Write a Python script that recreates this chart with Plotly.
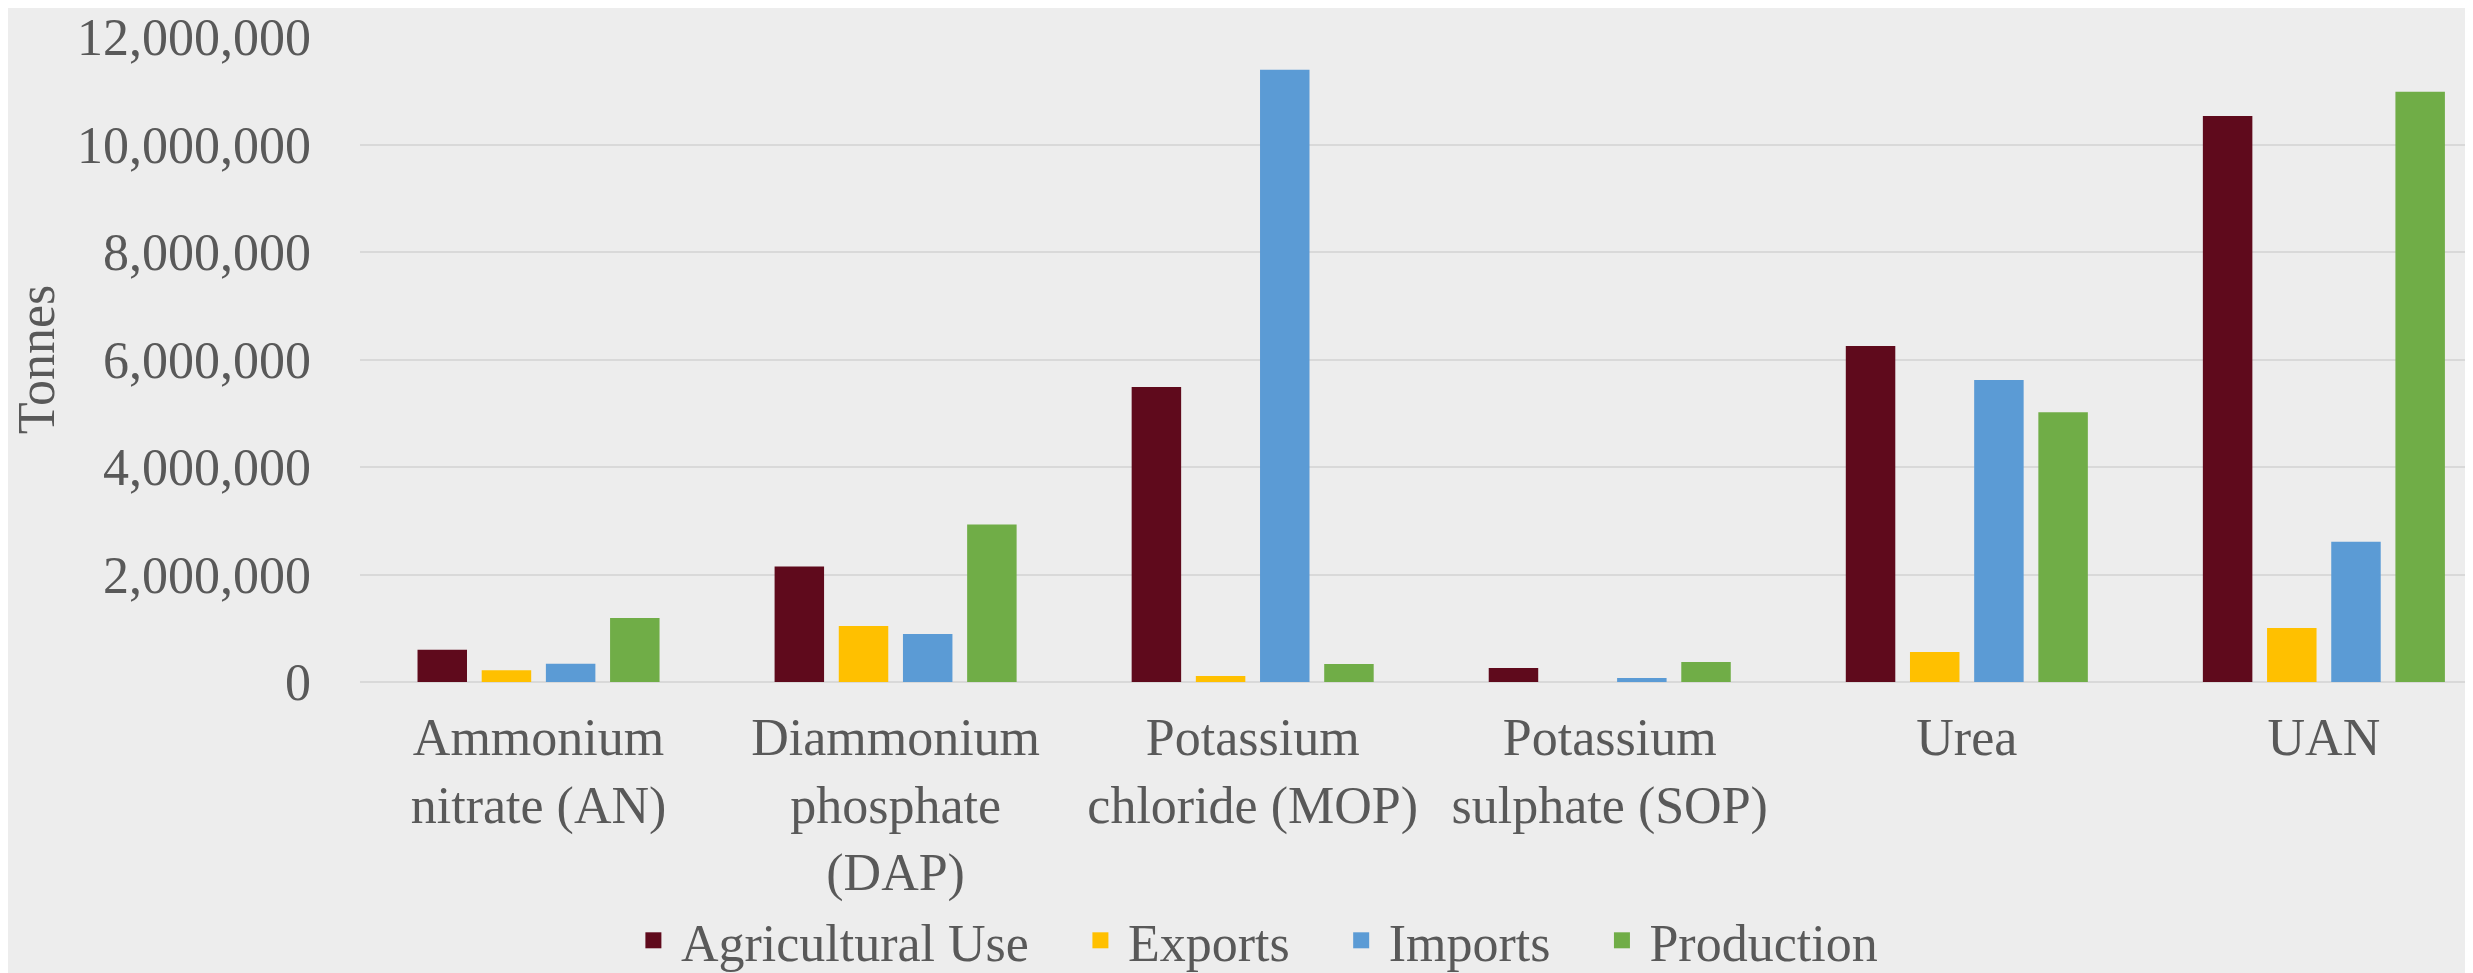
import plotly.graph_objects as go

categories = [
    "Ammonium<br>nitrate (AN)",
    "Diammonium<br>phosphate<br>(DAP)",
    "Potassium<br>chloride (MOP)",
    "Potassium<br>sulphate (SOP)",
    "Urea",
    "UAN",
]
agricultural_use = [600000, 2150000, 5490000, 260000, 6250000, 10530000]
exports = [220000, 1040000, 110000, 0, 556000, 1005000]
imports = [340000, 895000, 11390000, 75000, 5620000, 2610000]
production = [1190000, 2930000, 335000, 370000, 5020000, 10980000]

series_names = ["Agricultural Use", "Exports", "Imports", "Production"]
series_values = [agricultural_use, exports, imports, production]
colors = ["#5f0a1c", "#ffc000", "#5b9bd5", "#70ad47"]
y_ticks = [0, 2000000, 4000000, 6000000, 8000000, 10000000, 12000000]

FONT = "Liberation Serif, Times New Roman, serif"
TXT = "#595959"
NB = "\u00a0"

fig = go.Figure()
for name, vals, col in zip(series_names, series_values, colors):
    fig.add_trace(go.Bar(name=name, x=list(range(len(categories))), y=vals,
                         marker=dict(color=col, line=dict(width=0)),
                         showlegend=False, legendgroup=name))

# legend-only entries with larger square swatches
for i, (name, col) in enumerate(zip(series_names, colors)):
    label = name + (NB * 3 if i < len(series_names) - 1 else "")
    fig.add_trace(go.Scatter(name=label, x=[None], y=[None], mode="markers",
                             marker=dict(symbol="square", size=16, color=col),
                             legendgroup=name, showlegend=True))

fig.update_layout(
    width=2473, height=973,
    margin=dict(l=352, r=0, t=29, b=299),
    paper_bgcolor="#ededed", plot_bgcolor="rgba(0,0,0,0)",
    barmode="group", bargap=0.281, bargroupgap=0.229,
    font=dict(family=FONT, size=52, color=TXT),
    showlegend=True,
    legend=dict(orientation="h", xref="container", x=0.504, xanchor="center",
                yref="container", y=0.0, yanchor="bottom",
                font=dict(family=FONT, size=52, color=TXT),
                bgcolor="rgba(0,0,0,0)", itemwidth=45, tracegroupgap=0,
                itemsizing="trace"),
)
fig.update_xaxes(
    tickmode="array", tickvals=list(range(len(categories))), ticktext=categories,
    range=[-0.5, 5.44], showgrid=False, zeroline=False, showline=False,
    ticks="", ticklabelstandoff=20, automargin=False,
    tickfont=dict(family=FONT, size=52, color=TXT),
)
fig.update_yaxes(
    range=[0, 12000000], tickmode="array", tickvals=y_ticks,
    ticktext=[f"{v:,}" for v in y_ticks],
    showgrid=True, gridcolor="#d9d9d9", gridwidth=2,
    zeroline=True, zerolinecolor="#d9d9d9", zerolinewidth=2,
    showline=False, ticks="", ticklabelstandoff=48, automargin=False,
    tickfont=dict(family=FONT, size=52, color=TXT),
    title=dict(text="Tonnes", standoff=20, font=dict(family=FONT, size=52, color=TXT)),
)

fig.write_html("out.html")
